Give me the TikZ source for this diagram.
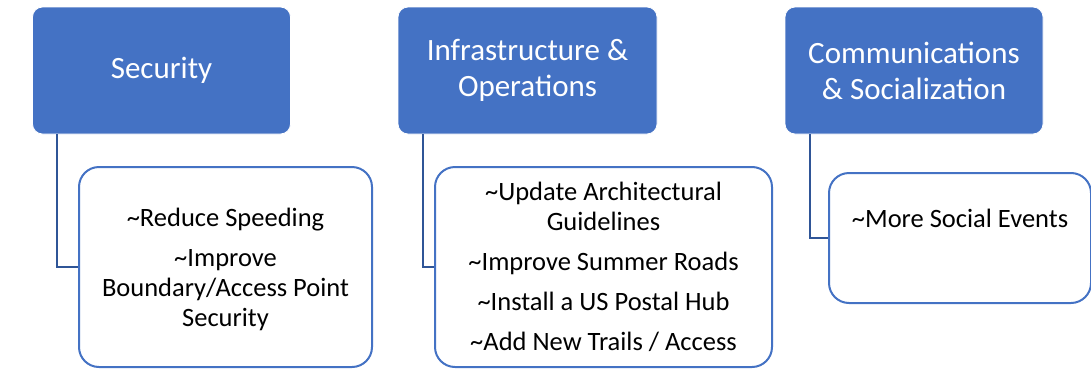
\documentclass[tikz,border=0pt]{standalone}
\usepackage{fontspec}
\setmainfont{Carlito}
\definecolor{accent}{HTML}{4472C4}
\definecolor{linkc}{HTML}{2F5597}
\tikzset{
  parentbox/.style={rectangle, rounded corners=10pt, fill=accent, draw=white, line width=0.8pt,
    text=white, align=center, font=\fontsize{31}{36}\selectfont, inner sep=0pt},
  childbox/.style={rectangle, rounded corners=20pt, fill=white, draw=accent, line width=2pt,
    text=black, align=center, font=\fontsize{26.5}{30}\selectfont, inner sep=0pt},
  childtext/.style={align=center, font=\fontsize{26.5}{30}\selectfont, inner sep=0pt, text=black},
  link/.style={draw=linkc, line width=2.2pt}
}
\begin{document}
\begin{tikzpicture}[x=1pt,y=-1pt]
\useasboundingbox (0,0) rectangle (1091,375);
% parents
\node[parentbox, minimum width=258pt, minimum height=127pt] (p1) at (161.5,70.5) {Security};
\node[parentbox, minimum width=259pt, minimum height=127pt] (p2) at (527.5,70.5) {Infrastructure \&\\Operations};
\node[parentbox, minimum width=258pt, minimum height=127pt] (p3) at (914,70.5) {Communications\\\& Socialization};
% children
\node[childbox, minimum width=293pt, minimum height=200pt] (c1) at (225.5,267) {};
\node[childtext] (t1) at (225.5,269) {\textasciitilde Reduce Speeding\\[10pt]\textasciitilde Improve\\Boundary/Access Point\\Security};
\node[childbox, minimum width=337pt, minimum height=200pt] (c2) at (603.5,267) {};
\node[childtext] (t2) at (603.5,267) {\textasciitilde Update Architectural\\Guidelines\\[10pt]\textasciitilde Improve Summer Roads\\[10pt]\textasciitilde Install a US Postal Hub\\[10pt]\textasciitilde Add New Trails / Access};
\node[childbox, minimum width=262pt, minimum height=130pt] (c3) at (960,238) {};
\node[childtext, anchor=base] (t3) at (960,227) {\textasciitilde More Social Events};
% connectors
\coordinate (k1) at (57,267);
\coordinate (k2) at (423,267);
\coordinate (k3) at (810,238);
\draw[link] (p1.south -| k1) -- (k1) -- (k1 -| c1.west);
\draw[link] (p2.south -| k2) -- (k2) -- (k2 -| c2.west);
\draw[link] (p3.south -| k3) -- (k3) -- (k3 -| c3.west);
\end{tikzpicture}
\end{document}
